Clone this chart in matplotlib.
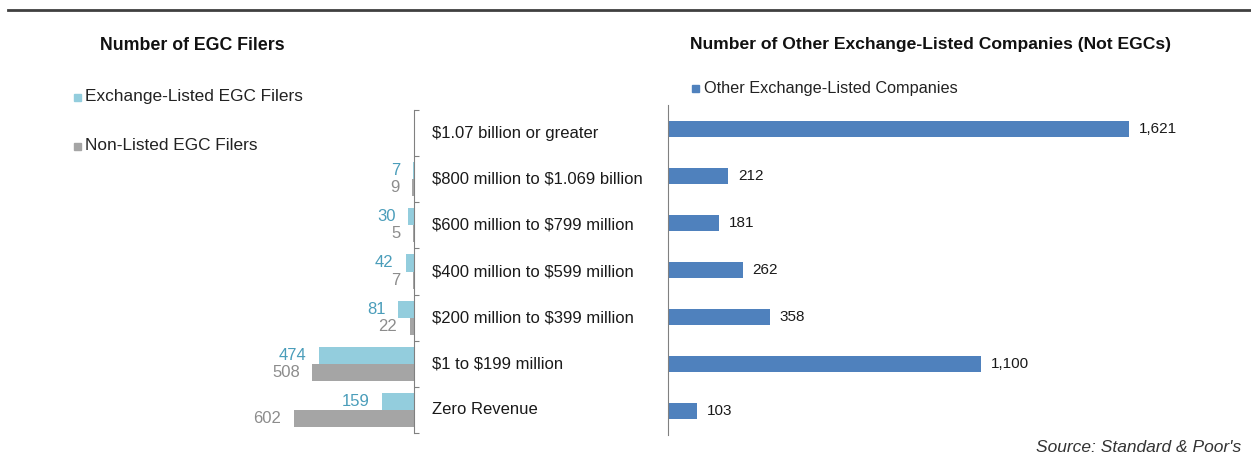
import numpy as np
import matplotlib.pyplot as plt
from matplotlib import transforms
from matplotlib.patches import Rectangle
from matplotlib.lines import Line2D

plt.rcParams['font.family'] = ['Liberation Sans Narrow', 'Liberation Sans', 'DejaVu Sans']

categories = [
    r"\$1.07 billion or greater",
    r"\$800 million to \$1.069 billion",
    r"\$600 million to \$799 million",
    r"\$400 million to \$599 million",
    r"\$200 million to \$399 million",
    r"\$1 to \$199 million",
    "Zero Revenue",
]
listed_egc = [None, 7, 30, 42, 81, 474, 159]
nonlisted_egc = [None, 9, 5, 7, 22, 508, 602]
other_listed = [1621, 212, 181, 262, 358, 1100, 103]

W, H = 1251, 455
fig = plt.figure(figsize=(W / 100, H / 100), dpi=100)


def box(x0, y0, x1, y1):
    # pixel box (top-left origin) -> figure fraction rect
    return [x0 / W, 1 - y1 / H, (x1 - x0) / W, (y1 - y0) / H]


def fx(x):
    return x / W


def fy(y):
    return 1 - y / H


light_blue = "#93CDDD"
grey = "#A5A5A5"
dark_blue = "#4F81BD"
blue_txt = "#4A9DBA"
grey_txt = "#8C8C8C"

# top rule
fig.add_artist(Line2D([fx(8), 1], [fy(10), fy(10)], color="#404040", lw=2))

# ---- left panel ----
ax1 = fig.add_axes(box(200, 110, 414, 433))
ypos = np.arange(len(categories))
bh = 0.37
for i in range(len(categories)):
    if listed_egc[i] is None:
        continue
    ax1.barh(i - 0.185, -listed_egc[i], height=bh, color=light_blue)
    ax1.barh(i + 0.185, -nonlisted_egc[i], height=bh, color=grey)
    ax1.annotate(str(listed_egc[i]), (-listed_egc[i], i - 0.185), xytext=(-9, 0),
                 textcoords="offset points", ha="right", va="center",
                 color=blue_txt, fontsize=12, annotation_clip=False)
    ax1.annotate(str(nonlisted_egc[i]), (-nonlisted_egc[i], i + 0.185), xytext=(-9, 0),
                 textcoords="offset points", ha="right", va="center",
                 color=grey_txt, fontsize=12, annotation_clip=False)
ax1.set_xlim(-1070, 0)
ax1.set_ylim(6.5, -0.5)
for s in ["left", "top", "bottom"]:
    ax1.spines[s].set_visible(False)
ax1.spines["right"].set_color("#808080")
ax1.yaxis.tick_right()
ax1.set_yticks(np.arange(-0.5, 7.0, 1.0))
ax1.set_yticklabels([])
ax1.tick_params(axis="y", direction="out", length=3.5, color="#808080")
ax1.set_xticks([])
ax1.patch.set_alpha(0)

trans = transforms.blended_transform_factory(fig.transFigure, ax1.transData)
for i, c in enumerate(categories):
    ax1.text(fx(432), i, c, transform=trans, ha="left", va="center",
             fontsize=12, color="#1a1a1a")

fig.text(fx(100), fy(45), "Number of EGC Filers", fontsize=12.8, fontweight="bold",
         ha="left", va="center", color="#111111")
fig.add_artist(Rectangle((fx(74), fy(101)), 7 / W, 7 / H, color=light_blue))
fig.text(fx(85), fy(97), "Exchange-Listed EGC Filers", fontsize=12.4,
         ha="left", va="center", color="#222222")
fig.add_artist(Rectangle((fx(74), fy(150)), 7 / W, 7 / H, color=grey))
fig.text(fx(85), fy(146), "Non-Listed EGC Filers", fontsize=12.4,
         ha="left", va="center", color="#222222")

# ---- right panel ----
ax2 = fig.add_axes(box(668, 105, 1200, 435))
ax2.barh(ypos, other_listed, height=0.34, color=dark_blue)
for i, v in enumerate(other_listed):
    ax2.annotate(f"{v:,}", (v, i), xytext=(7, 0), textcoords="offset points",
                 ha="left", va="center", fontsize=11, color="#1a1a1a",
                 annotation_clip=False)
ax2.set_xlim(0, 1870)
ax2.set_ylim(6.5, -0.5)
for s in ["right", "top", "bottom"]:
    ax2.spines[s].set_visible(False)
ax2.spines["left"].set_color("#808080")
ax2.set_xticks([])
ax2.set_yticks([])
ax2.patch.set_alpha(0)

fig.text(fx(690), fy(45), "Number of Other Exchange-Listed Companies (Not EGCs)",
         fontsize=12.6, fontweight="bold", ha="left", va="center", color="#111111")
fig.add_artist(Rectangle((fx(692), fy(92)), 7 / W, 7 / H, color=dark_blue))
fig.text(fx(704), fy(88), "Other Exchange-Listed Companies", fontsize=11.7,
         ha="left", va="center", color="#222222")

fig.text(fx(1241), fy(447), "Source: Standard & Poor's", fontsize=12.5, style="italic",
         ha="right", va="center", color="#333333")

fig.savefig("out.png", dpi=100)
